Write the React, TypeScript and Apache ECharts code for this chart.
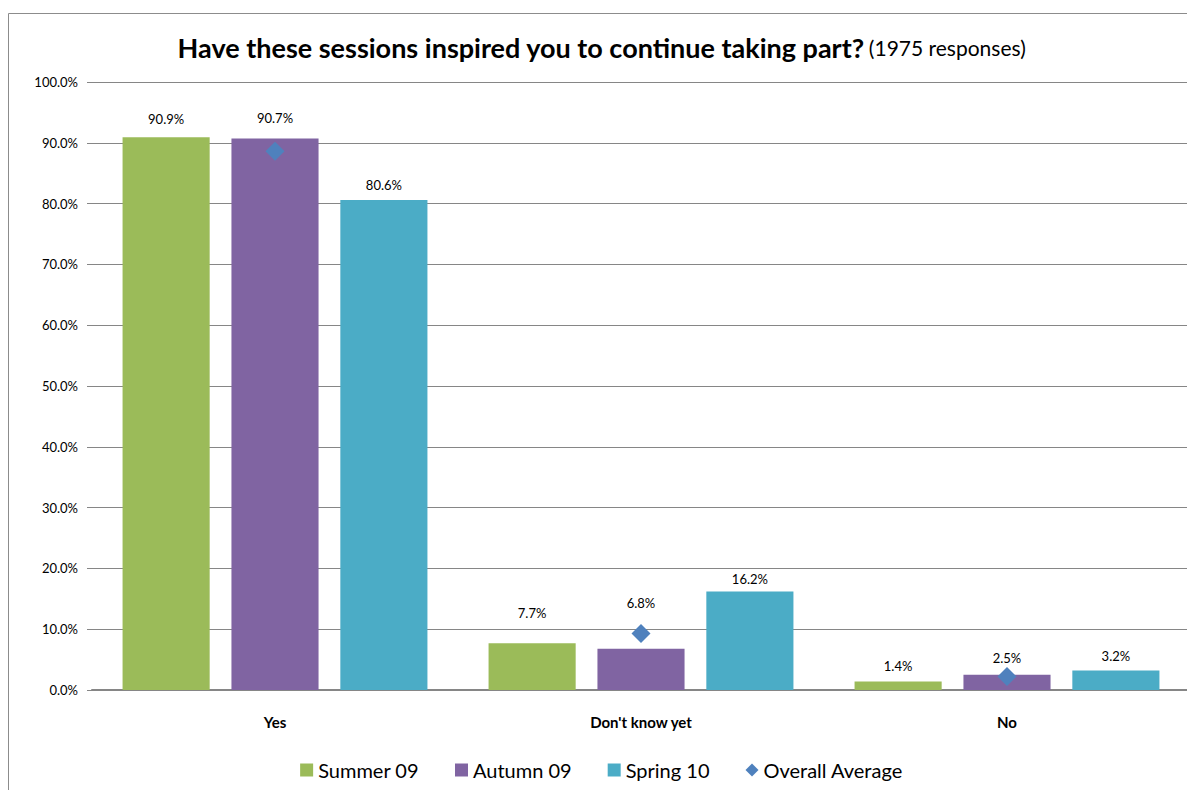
import React, { useEffect, useRef } from "react";
import * as echarts from "echarts";

const categories = ["Yes", "Don't know yet", "No"];
const summer09 = [90.9, 7.7, 1.4];
const autumn09 = [90.7, 6.8, 2.5];
const spring10 = [80.6, 16.2, 3.2];
const overallAverage = [88.6, 9.3, 2.2];
const seriesNames = ["Summer 09", "Autumn 09", "Spring 10", "Overall Average"];

// label offsets (px above bar top), matching the reference's placement
const summerLabelDist = [12, 24, 9];
const autumnLabelDist = [14, 39, 10];
const springLabelDist = [8, 6, 8];

const FONT = "Lato, 'Noto Sans', sans-serif";

export default function App() {
  const ref = useRef<HTMLDivElement>(null);
  useEffect(() => {
    if (!ref.current) return;
    const chart = echarts.init(ref.current, undefined, { renderer: "svg" });
    const barLabel = {
      show: true,
      position: "top",
      color: "#000",
      fontSize: 13,
      fontFamily: FONT,
      formatter: (p: any) => Number(p.value).toFixed(1) + "%",
    };
    const mkBar = (name: string, data: number[], dist: number[], color: string) => ({
      name,
      type: "bar",
      data: data.map((v, i) => ({ value: v, label: { distance: dist[i] } })),
      barWidth: "23.8%",
      barGap: "25%",
      itemStyle: { color },
      label: barLabel,
    });
    chart.setOption({
      animation: false,
      textStyle: { fontFamily: FONT },
      graphic: [
        {
          type: "rect",
          shape: { x: 0.5, y: 5.5, width: 1300, height: 900 },
          style: { fill: "none", stroke: "#8c8c8c", lineWidth: 1 },
          silent: true,
        },
      ],
      title: {
        text: "{b|Have these sessions inspired you to continue taking part?} {n|(1975 responses)}",
        left: "center",
        top: 21,
        textStyle: {
          rich: {
            b: { fontFamily: FONT, fontWeight: "bold", fontSize: 27, color: "#000" },
            n: { fontFamily: FONT, fontWeight: "normal", fontSize: 21, color: "#000" },
          },
        },
      },
      legend: {
        bottom: 5,
        left: "center",
        itemWidth: 13,
        itemHeight: 13,
        itemGap: 36,
        textStyle: { fontFamily: FONT, fontSize: 20, color: "#000" },
        data: [
          { name: seriesNames[0], icon: "rect" },
          { name: seriesNames[1], icon: "rect" },
          { name: seriesNames[2], icon: "rect" },
          { name: seriesNames[3], icon: "diamond" },
        ],
      },
      grid: { left: 84, right: 5, top: 74, bottom: 100 },
      xAxis: {
        type: "category",
        data: categories,
        axisLine: { lineStyle: { color: "#868686", width: 2 } },
        axisTick: { show: false },
        axisLabel: { fontFamily: FONT, fontWeight: "bold", fontSize: 15, color: "#000", margin: 24 },
      },
      yAxis: {
        type: "value",
        min: 0,
        max: 100,
        interval: 10,
        axisLine: { show: false },
        axisTick: { show: true, length: 5, lineStyle: { color: "#868686" } },
        splitLine: { lineStyle: { color: "#868686", width: 1 } },
        axisLabel: {
          fontFamily: FONT,
          fontSize: 13,
          color: "#000",
          margin: 14,
          formatter: (v: number) => v.toFixed(1) + "%",
        },
      },
      series: [
        mkBar(seriesNames[0], summer09, summerLabelDist, "#9BBB59"),
        mkBar(seriesNames[1], autumn09, autumnLabelDist, "#8064A2"),
        mkBar(seriesNames[2], spring10, springLabelDist, "#4BACC6"),
        {
          name: seriesNames[3],
          type: "scatter",
          data: overallAverage,
          symbol: "diamond",
          symbolSize: 19,
          itemStyle: { color: "#4F81BD", opacity: 1 },
          z: 5,
        },
      ],
    });
    return () => chart.dispose();
  }, []);
  return <div ref={ref} style={{ width: 1187, height: 782 }} />;
}
